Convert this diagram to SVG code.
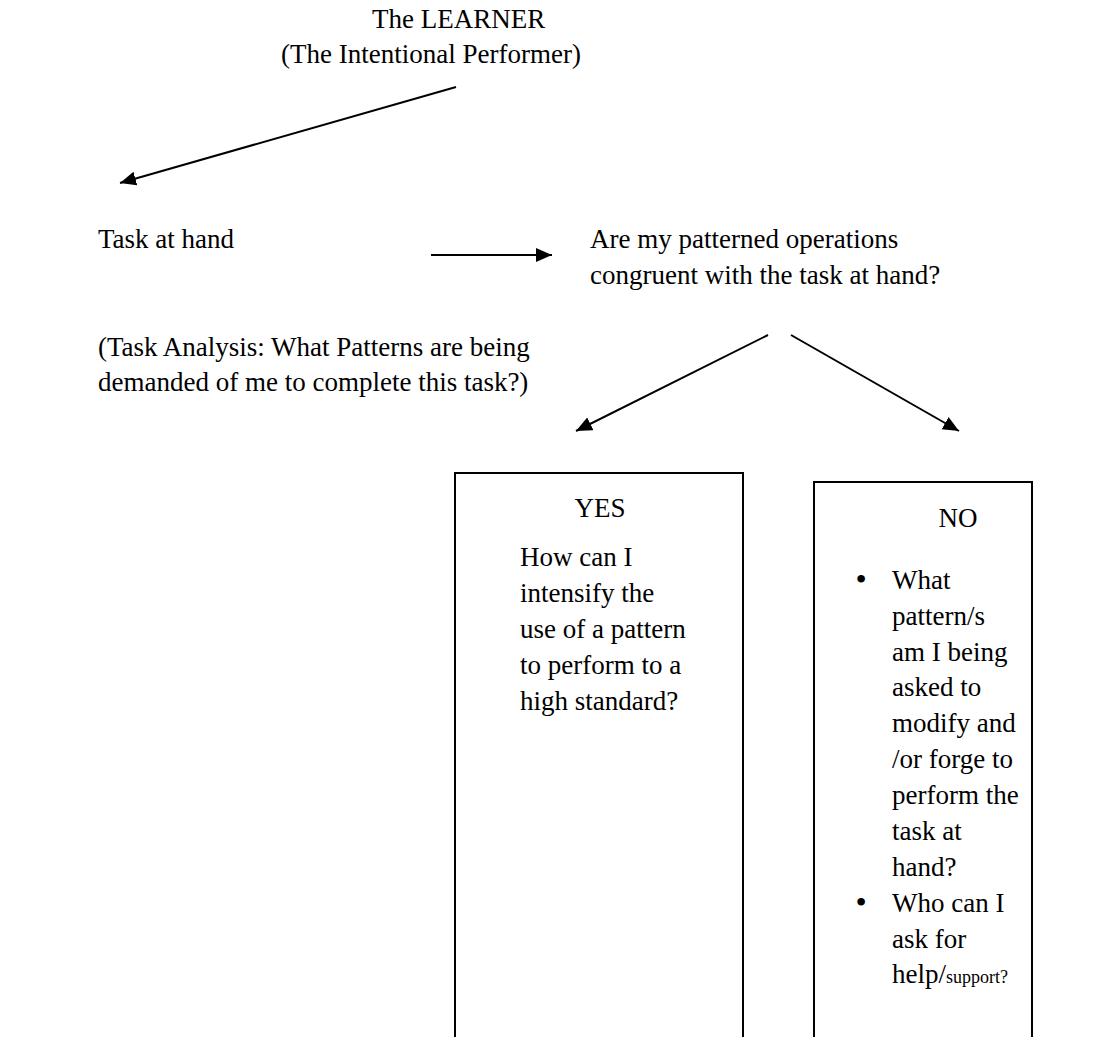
<svg xmlns="http://www.w3.org/2000/svg" width="1102" height="1037" viewBox="0 0 1102 1037">
<style>
text{font-family:"Liberation Serif","Times New Roman",serif;font-size:27px;fill:#000}
.c{text-anchor:middle}
.bul{font-size:32px;text-anchor:middle}
.box{fill:#fff;stroke:#000;stroke-width:2}
.conn line{stroke:#000;stroke-width:2;fill:none}
</style>
<defs>
<marker id="ah" markerUnits="userSpaceOnUse" markerWidth="18" markerHeight="16" refX="16" refY="7" orient="auto">
<path d="M0,0 L16,7 L0,14 z" fill="#000"/>
</marker>
</defs>
<rect width="1102" height="1037" fill="#fff"/>
<g id="learner">
<text x="372" y="28">The LEARNER</text>
<text x="281" y="63">(The Intentional Performer)</text>
</g>
<g id="task">
<text x="98" y="248">Task at hand</text>
</g>
<g id="question">
<text x="590" y="248">Are my patterned operations</text>
<text x="590" y="284">congruent with the task at hand?</text>
</g>
<g id="analysis">
<text x="98" y="356">(Task Analysis: What Patterns are being</text>
<text x="98" y="391">demanded of me to complete this task?)</text>
</g>
<g id="yes">
<rect class="box" x="455" y="473" width="288" height="580"/>
<text class="c" x="600" y="517">YES</text>
<text x="520" y="566">How can I</text>
<text x="520" y="602">intensify the</text>
<text x="520" y="638">use of a pattern</text>
<text x="520" y="674">to perform to a</text>
<text x="520" y="710">high standard?</text>
</g>
<g id="no">
<rect class="box" x="814" y="482" width="218" height="580"/>
<text class="c" x="958" y="527">NO</text>
<text class="bul" x="861" y="590">•</text>
<text x="892" y="589">What</text>
<text x="892" y="625">pattern/s</text>
<text x="892" y="661">am I being</text>
<text x="892" y="696">asked to</text>
<text x="892" y="732">modify and</text>
<text x="892" y="768">/or forge to</text>
<text x="892" y="804">perform the</text>
<text x="892" y="840">task at</text>
<text x="892" y="876">hand?</text>
<text class="bul" x="861" y="913">•</text>
<text x="892" y="912">Who can I</text>
<text x="892" y="948">ask for</text>
<text x="892" y="983">help/<tspan font-size="18">support?</tspan></text>
</g>
<g id="connectors" class="conn">
<line x1="456" y1="87" x2="120" y2="183" marker-end="url(#ah)"/>
<line x1="431" y1="255" x2="552" y2="255" marker-end="url(#ah)"/>
<line x1="768" y1="335" x2="576" y2="431" marker-end="url(#ah)"/>
<line x1="791" y1="335" x2="959" y2="431" marker-end="url(#ah)"/>
</g>
</svg>
